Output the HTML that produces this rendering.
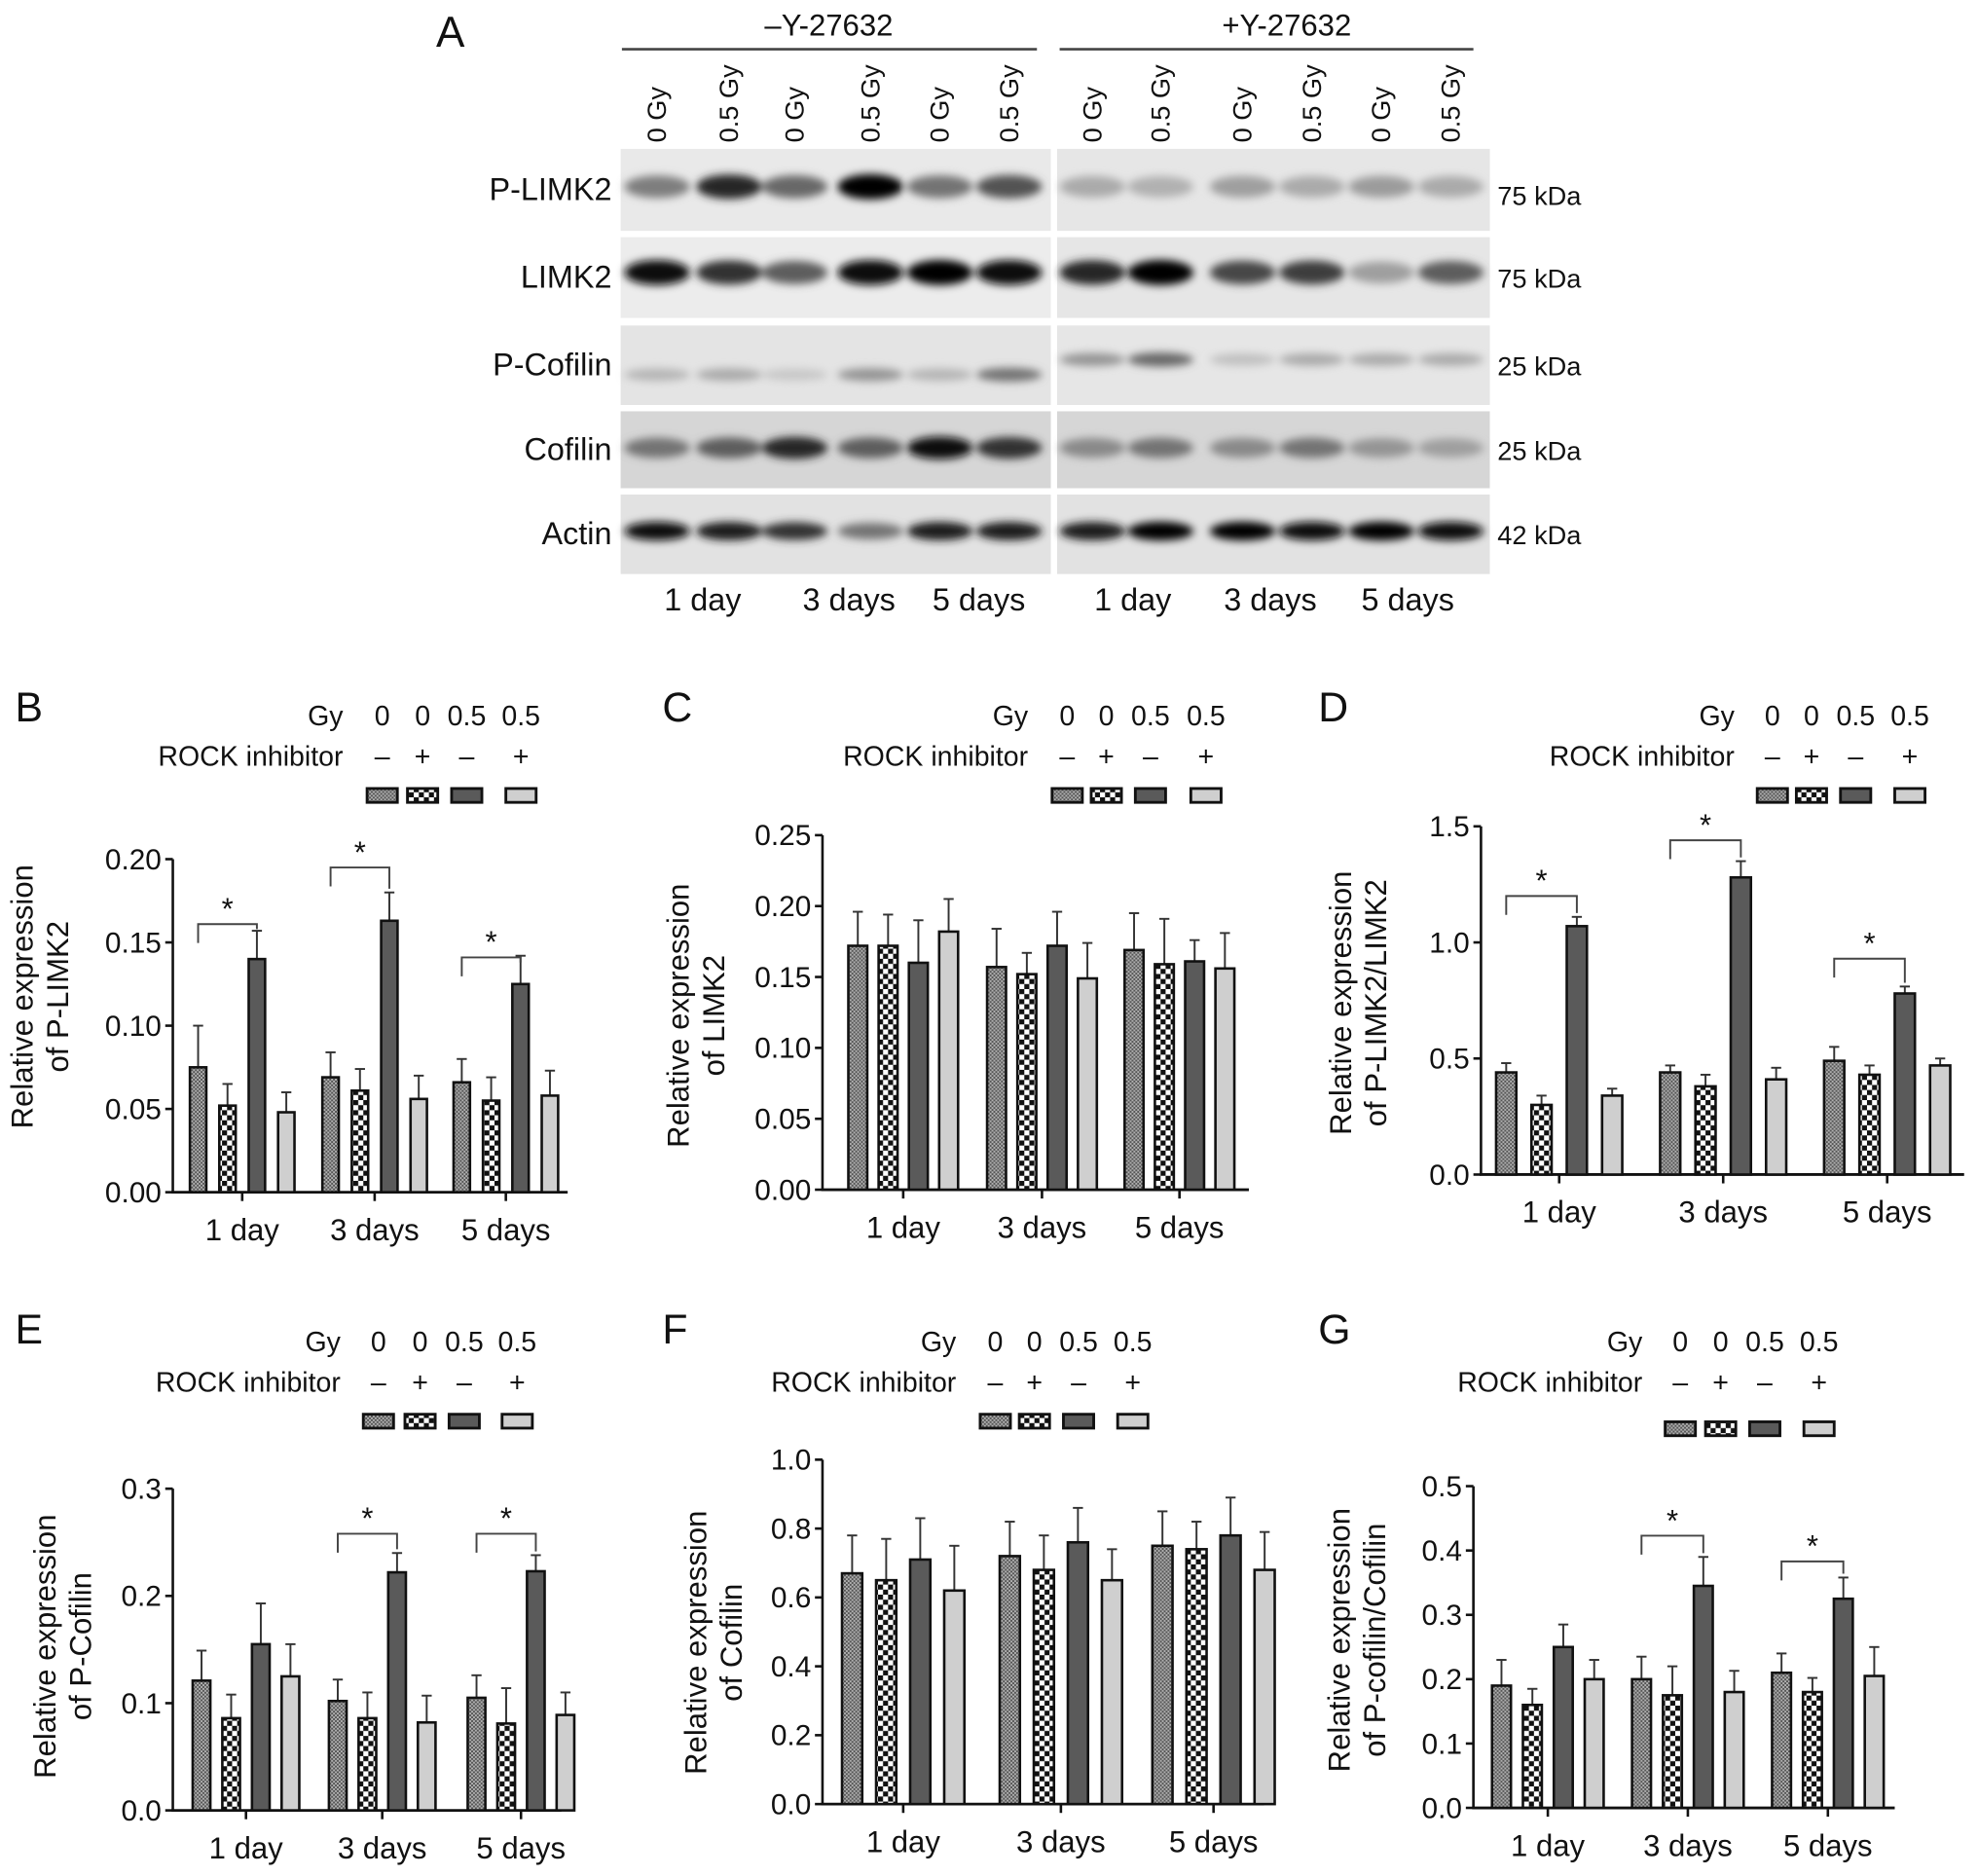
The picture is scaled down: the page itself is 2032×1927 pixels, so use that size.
<!DOCTYPE html>
<html><head><meta charset="utf-8"><style>
html,body{margin:0;padding:0;background:#fff}
svg{display:block}
text{font-family:"Liberation Sans",Arial,sans-serif;fill:#111}
</style></head><body>
<svg id="fig" xmlns="http://www.w3.org/2000/svg" width="2032" height="1927" viewBox="0 0 1568 1487" preserveAspectRatio="none">
<defs>
<pattern id="pat-hatch" width="3" height="3" patternUnits="userSpaceOnUse"><rect width="3" height="3" fill="#b0b0b0"/><rect width="1.5" height="1.5" fill="#555"/><rect x="1.5" y="1.5" width="1.5" height="1.5" fill="#555"/></pattern>
<pattern id="pat-check" width="8" height="8" patternUnits="userSpaceOnUse"><rect width="8" height="8" fill="#fff"/><rect width="4" height="4" fill="#111"/><rect x="4" y="4" width="4" height="4" fill="#111"/></pattern>
<filter id="blur3" x="-50%" y="-100%" width="200%" height="300%"><feGaussianBlur stdDeviation="3.2"/></filter>
</defs>
<g id="blot"></g>
<g id="charts"></g>
</svg>
<script>
// ---------- Blot data ----------
const blotRows = ['P-LIMK2','LIMK2','P-Cofilin','Cofilin','Actin'];
const blotKda = ['75 kDa','75 kDa','25 kDa','25 kDa','42 kDa'];
const laneLabels = ['0 Gy','0.5 Gy','0 Gy','0.5 Gy','0 Gy','0.5 Gy'];
const dayLabels = ['1 day','3 days','5 days'];
const intPLIMK2 = [0.45,0.85,0.55,1.0,0.5,0.65, 0.25,0.22,0.3,0.25,0.32,0.25];
const intLIMK2  = [0.95,0.8,0.6,0.95,1.0,0.95, 0.85,1.0,0.7,0.75,0.3,0.6];
const intPCof   = [0.2,0.25,0.12,0.35,0.2,0.5, 0.35,0.55,0.15,0.25,0.25,0.25];
const intCof    = [0.5,0.6,0.85,0.6,0.95,0.8, 0.4,0.5,0.4,0.5,0.35,0.3];
const intActin  = [0.95,0.9,0.8,0.5,0.9,0.9, 0.9,1.0,1.0,0.95,1.0,0.95];

// ---------- Chart data ----------
const groups = ['1 day','3 days','5 days'];
const gyValues = ['0','0','0.5','0.5'];
const rockValues = ['–','+','–','+'];

const bTicks = ['0.00','0.05','0.10','0.15','0.20'];
const bTickVals = [0,0.05,0.10,0.15,0.20];
const bMeans = [[0.075,0.052,0.140,0.048],[0.069,0.061,0.163,0.056],[0.066,0.055,0.125,0.058]];
const bErrs  = [[0.025,0.013,0.017,0.012],[0.015,0.013,0.017,0.014],[0.014,0.014,0.017,0.015]];
const bSig   = [0.161,0.195,0.141];

const cTicks = ['0.00','0.05','0.10','0.15','0.20','0.25'];
const cTickVals = [0,0.05,0.10,0.15,0.20,0.25];
const cMeans = [[0.172,0.172,0.160,0.182],[0.157,0.152,0.172,0.149],[0.169,0.159,0.161,0.156]];
const cErrs  = [[0.024,0.022,0.030,0.023],[0.027,0.015,0.024,0.025],[0.026,0.032,0.015,0.025]];
const cSig   = [null,null,null];

const dTicks = ['0.0','0.5','1.0','1.5'];
const dTickVals = [0,0.5,1.0,1.5];
const dMeans = [[0.44,0.30,1.07,0.34],[0.44,0.38,1.28,0.41],[0.49,0.43,0.78,0.47]];
const dErrs  = [[0.04,0.04,0.04,0.03],[0.03,0.05,0.07,0.05],[0.06,0.04,0.03,0.03]];
const dSig   = [1.20,1.44,0.93];

const eTicks = ['0.0','0.1','0.2','0.3'];
const eTickVals = [0,0.1,0.2,0.3];
const eMeans = [[0.121,0.086,0.155,0.125],[0.102,0.086,0.222,0.082],[0.105,0.081,0.223,0.089]];
const eErrs  = [[0.028,0.022,0.038,0.030],[0.020,0.024,0.018,0.025],[0.021,0.033,0.015,0.021]];
const eSig   = [null,0.258,0.258];

const fTicks = ['0.0','0.2','0.4','0.6','0.8','1.0'];
const fTickVals = [0,0.2,0.4,0.6,0.8,1.0];
const fMeans = [[0.67,0.65,0.71,0.62],[0.72,0.68,0.76,0.65],[0.75,0.74,0.78,0.68]];
const fErrs  = [[0.11,0.12,0.12,0.13],[0.10,0.10,0.10,0.09],[0.10,0.08,0.11,0.11]];
const fSig   = [null,null,null];

const gTicks = ['0.0','0.1','0.2','0.3','0.4','0.5'];
const gTickVals = [0,0.1,0.2,0.3,0.4,0.5];
const gMeans = [[0.19,0.16,0.25,0.20],[0.20,0.175,0.345,0.18],[0.21,0.18,0.325,0.205]];
const gErrs  = [[0.04,0.025,0.035,0.03],[0.035,0.045,0.045,0.033],[0.03,0.022,0.033,0.045]];
const gSig   = [null,0.423,0.383];

const NS='http://www.w3.org/2000/svg';
function mk(tag, attrs, parent){const e=document.createElementNS(NS,tag);for(const k in attrs)e.setAttribute(k,attrs[k]);if(parent)parent.appendChild(e);return e;}
function txt(parent,x,y,s,size,anchor,extra){const t=mk('text',Object.assign({x:x,y:y,'font-size':size,'text-anchor':anchor||'start'},extra||{}),parent);t.textContent=s;return t;}

// ---------- Blot ----------
const blot=document.getElementById('blot');
const panelsX=[[492,833],[838,1181]];
const rowsY=[[118,183],[188,252],[258,321],[326,387],[392,455]];
const rowBg=['#e9e9e9','#ececec','#e4e4e4','#d6d6d6','#e2e2e2'];
const bandY=[148,216,[297,285],355,421];
const bandH=[16,16,9,14,11];
const laneX=[521,578,630,690,745,800,866,920,985,1040,1095,1150];
const ints=[intPLIMK2,intLIMK2,intPCof,intCof,intActin];
let t=txt(blot,357,37,'A',34,'middle');


t=txt(blot,657,28,'–Y-27632',24,'middle');


t=txt(blot,1020,28,'+Y-27632',24,'middle');


mk('line',{x1:493,y1:39,x2:822,y2:39,stroke:'#444','stroke-width':2},blot);
mk('line',{x1:840,y1:39,x2:1168,y2:39,stroke:'#444','stroke-width':2},blot);
laneX.forEach((x,i)=>{const l=txt(blot,0,0,laneLabels[i%6],21,'start',{transform:`translate(${x+7},${113}) rotate(-90)`});

});
rowsY.forEach((r,ri)=>{
  panelsX.forEach((p,pi)=>{
    const bg=mk('rect',{x:p[0],y:r[0],width:p[1]-p[0],height:r[1]-r[0],fill:pi==1&&ri<3?'#e6e6e6':rowBg[ri]},blot);
    
    
  });
  const g=mk('g',{filter:'url(#blur3)'},blot);
  laneX.forEach((x,li)=>{
    const v=ints[ri][li];
    let by=Array.isArray(bandY[ri])?(li<6?bandY[ri][0]:bandY[ri][1]):bandY[ri];
    const gray=Math.round(225-220*v);
    const b=mk('ellipse',{cx:x,cy:by,rx:26,ry:bandH[ri]/2+v*2,fill:`rgb(${gray},${gray},${gray})`},g);
    
    
  });
  const rl=txt(blot,485,(r[0]+r[1])/2+8,blotRows[ri],25,'end');
  
  
  const kl=txt(blot,1187,(r[0]+r[1])/2+(ri==0?12:8),blotKda[ri],21,'start');
  
  
});
[557,673,776,898,1007,1116].forEach((x,i)=>{const d=txt(blot,x,484,dayLabels[i%3],25,'middle');

});

// ---------- Charts ----------
const fills=['url(#pat-hatch)','url(#pat-check)','#5a5a5a','#cfcfcf'];
function chart(L, ticks, tickVals, means, errs, sig){
  const root=document.getElementById('charts');
  const g=mk('g',{},root);
  
  
  const vmax=tickVals[tickVals.length-1];
  const yS=v=>L.y0-(v/vmax)*(L.y0-L.yTop);
  const lab=txt(g,L.letter[0],L.letter[1],L.id.toUpperCase(),33,'start');
  
  
  const lg=mk('g',{},g);
  
  
  txt(lg,L.leg.x,L.leg.y,'Gy',22,'end');
  txt(lg,L.leg.x,L.leg.y+32,'ROCK inhibitor',22,'end');
  L.leg.cols.forEach((cx,i)=>{
    txt(lg,cx,L.leg.y,gyValues[i],22,'middle');
    txt(lg,cx,L.leg.y+32,rockValues[i],22,'middle');
    const sw=mk('rect',{x:cx-12,y:L.leg.y+50+(L.leg.sdy||0),width:24,height:11,fill:fills[i],stroke:'#111','stroke-width':2.2},lg);
    
    
  });
  const ya=mk('g',{},g);
  
  
  mk('line',{x1:L.x0,y1:yS(vmax),x2:L.x0,y2:L.y0,stroke:'#111','stroke-width':2},ya);
  tickVals.forEach((v,i)=>{
    mk('line',{x1:L.x0-6,y1:yS(v),x2:L.x0,y2:yS(v),stroke:'#111','stroke-width':2},ya);
    txt(ya,L.x0-9,yS(v)+8,ticks[i],23,'end');
  });
  const yt=mk('text',{'font-size':24,'text-anchor':'middle',transform:`translate(${L.title.x},${L.title.y}) rotate(-90)`},g);
  
  
  const s1=mk('tspan',{x:0,dy:0},yt);s1.textContent='Relative expression';
  const s2=mk('tspan',{x:0,dy:28},yt);s2.textContent=L.title.t;
  const xa=mk('g',{},g);
  
  
  mk('line',{x1:L.x0-1,y1:L.y0,x2:L.x1,y2:L.y0,stroke:'#111','stroke-width':2.2},xa);
  groups.forEach((gname,gi)=>{
    const gc=L.gc[gi];
    mk('line',{x1:gc,y1:L.y0,x2:gc,y2:L.y0+7,stroke:'#111','stroke-width':2},xa);
    txt(xa,gc,L.y0+38,gname,24,'middle');
    means[gi].forEach((m,bi)=>{
      const cx=gc+(bi-1.5)*L.sp;
      const top=yS(m);
      const et=yS(m+errs[gi][bi]);
      const eb=mk('line',{x1:cx,y1:top,x2:cx,y2:et,stroke:'#333','stroke-width':1.5},g);
      
      
      mk('line',{x1:cx-4,y1:et,x2:cx+4,y2:et,stroke:'#333','stroke-width':1.5},g);
      const r=mk('rect',{x:cx-L.bw/2,y:top,width:L.bw,height:L.y0-top,fill:fills[bi],stroke:'#111','stroke-width':2},g);
      
      
    });
    if(sig[gi]!==null){
      const c1=gc-1.5*L.sp, c3=gc+0.5*L.sp;
      const ly=yS(sig[gi]);
      const rTop=yS(means[gi][2]+errs[gi][2])-3;
      const br=mk('path',{d:`M${c1},${ly+15} V${ly} H${c3} V${Math.max(rTop,ly+4)}`,fill:'none',stroke:'#444','stroke-width':1.5},g);
      
      
      const st=txt(g,(c1+c3)/2,ly-4,'*',24,'middle');
      
      
    }
  });
}
chart({id:'b',letter:[12,572],x0:137,x1:450,y0:945,yTop:681,gc:[192,297,401],sp:23.3,bw:13,
  leg:{x:272,y:575,cols:[303,335,370,413]},title:{x:26,y:790,t:'of P-LIMK2'}},bTicks,bTickVals,bMeans,bErrs,bSig);
chart({id:'c',letter:[525,572],x0:652,x1:990,y0:943,yTop:662,gc:[716,826,935],sp:24,bw:15,
  leg:{x:815,y:575,cols:[846,877,912,956]},title:{x:546,y:805,t:'of LIMK2'}},cTicks,cTickVals,cMeans,cErrs,cSig);
chart({id:'d',letter:[1045,572],x0:1174,x1:1557,y0:931,yTop:655,gc:[1236,1366,1496],sp:28,bw:16,
  leg:{x:1375,y:575,cols:[1405,1436,1471,1514]},title:{x:1071,y:795,t:'of P-LIMK2/LIMK2'}},dTicks,dTickVals,dMeans,dErrs,dSig);
chart({id:'e',letter:[12,1065],x0:137,x1:445,y0:1435,yTop:1180,gc:[195,303,413],sp:23.5,bw:14,
  leg:{x:270,y:1071,cols:[300,333,368,410]},title:{x:44,y:1305,t:'of P-Cofilin'}},eTicks,eTickVals,eMeans,eErrs,eSig);
chart({id:'f',letter:[525,1065],x0:652,x1:1002,y0:1430,yTop:1157,gc:[716,841,962],sp:27,bw:16,
  leg:{x:758,y:1071,cols:[789,820,855,898]},title:{x:560,y:1302,t:'of Cofilin'}},fTicks,fTickVals,fMeans,fErrs,fSig);
chart({id:'g',letter:[1045,1065],x0:1168,x1:1502,y0:1433,yTop:1178,gc:[1227,1338,1449],sp:24.5,bw:15,
  leg:{x:1302,y:1071,cols:[1332,1364,1399,1442],sdy:6},title:{x:1070,y:1300,t:'of P-cofilin/Cofilin'}},gTicks,gTickVals,gMeans,gErrs,gSig);
</script>
</body></html>
